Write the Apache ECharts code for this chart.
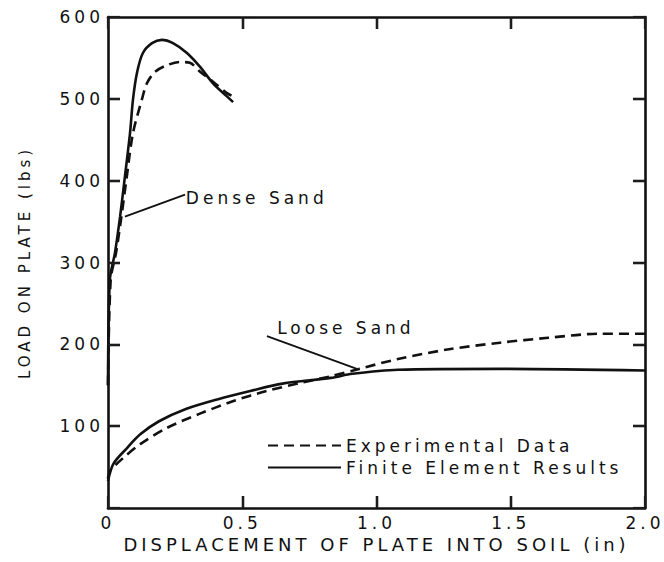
<!DOCTYPE html>
<html>
<head>
<meta charset="utf-8">
<script src="https://cdn.jsdelivr.net/npm/echarts@6/dist/echarts.min.js"></script>
<style>
  html, body { margin: 0; padding: 0; background: #fff; }
  #chart { width: 664px; height: 562px; }
  /* the scanned figure uses a very wide lettering */
  #chart svg text { letter-spacing: 4px; }
</style>
</head>
<body>
<div id="chart"></div>
<script>
// values: [displacement (in), load (lbs)]
var denseFE = [[0, 150], [0.007, 279], [0.026, 312], [0.045, 356], [0.063, 405], [0.082, 458], [0.093, 499],
  [0.108, 532], [0.13, 556], [0.164, 568], [0.201, 572], [0.242, 568], [0.294, 556], [0.343, 539],
  [0.391, 519], [0.443, 503], [0.466, 496]];
var denseExp = [[0, 150], [0.01, 279], [0.03, 312], [0.05, 356], [0.07, 405], [0.093, 458], [0.126, 499],
  [0.145, 519], [0.175, 533], [0.219, 541], [0.268, 545], [0.305, 544], [0.343, 533], [0.391, 521],
  [0.443, 507], [0.48, 501]];
var looseFE = [[0, 33], [0.02, 54], [0.07, 73], [0.12, 90], [0.19, 106], [0.29, 121], [0.41, 133],
  [0.53, 143], [0.65, 152], [0.83, 159], [0.91, 164], [1.08, 169], [1.46, 170], [2.0, 168]];
var looseExp = [[0, 36], [0.007, 45], [0.056, 61], [0.12, 78], [0.22, 98], [0.34, 115], [0.47, 131],
  [0.59, 143], [0.72, 153], [0.83, 161], [0.935, 170], [1.08, 182], [1.27, 194], [1.46, 202],
  [1.64, 208], [1.83, 213], [2.0, 213]];
var xTicks = ['0', '0.5', '1.0', '1.5', '2.0'];
var yTicks = ['', '100', '200', '300', '400', '500', '600'];
// curve notes: leader line (from, to) and where the words start
var denseNote = { from: [0.063, 356], to: [0.287, 383], at: [0.29, 379], text: 'Dense Sand' };
var looseNote = { from: [0.592, 210], to: [0.927, 170], at: [0.63, 220], text: 'Loose Sand' };

var ink = '#111';
var tickInk = '#1c1c1c';
var font = 'DejaVu Sans';
var dash = [10, 6];
var xStep = 0.5, yStep = 100;
var xMax = (xTicks.length - 1) * xStep, yMax = (yTicks.length - 1) * yStep;

function curve(name, data, dashed, note) {
  var s = {
    name: name, type: 'line', data: data, smooth: 0.3, symbol: 'none',
    lineStyle: { color: ink, width: 2.6, type: dashed ? dash : 'solid' },
    itemStyle: { color: ink },
    z: 3
  };
  if (note) {
    s.markLine = {
      silent: true, symbol: 'none',
      lineStyle: { color: ink, width: 1.8, type: 'solid' },
      label: { show: false },
      data: [[{ coord: note.from }, { coord: note.to }]]
    };
    s.markPoint = {
      silent: true, symbol: 'circle', symbolSize: 0,
      label: { show: true, position: 'right', distance: 0, color: ink, fontFamily: font, fontSize: 17 },
      data: [{ coord: note.at, value: note.text }]
    };
  }
  return s;
}

function ticks() {
  return { show: true, inside: true, length: 12, lineStyle: { color: tickInk, width: 2.2 } };
}

var chart = echarts.init(document.getElementById('chart'), null, { renderer: 'svg' });
chart.setOption({
  animation: false,
  backgroundColor: '#fff',
  grid: { left: 108, right: 19, top: 17, bottom: 54 },
  legend: {
    left: 262, top: 432, orient: 'vertical', itemGap: 5,
    itemWidth: 73, itemHeight: 14,
    data: ['Experimental Data', 'Finite Element Results'],
    itemStyle: { opacity: 0 },
    textStyle: { color: ink, fontFamily: font, fontSize: 17, padding: [0, 0, 0, 0] }
  },
  xAxis: [{
    type: 'value', min: 0, max: xMax, interval: xStep, position: 'bottom',
    name: 'DISPLACEMENT OF PLATE INTO SOIL (in)', nameLocation: 'middle', nameGap: 26,
    nameTextStyle: { color: ink, fontFamily: font, fontSize: 18 },
    axisLine: { show: true, onZero: false, lineStyle: { color: ink, width: 2.6 } },
    axisTick: ticks(),
    axisLabel: { color: ink, fontFamily: font, fontSize: 17, margin: 6,
      formatter: function (v) { return xTicks[Math.round(v / xStep)]; } },
    splitLine: { show: false }
  }, {
    type: 'value', min: 0, max: xMax, interval: xStep, position: 'top',
    axisLine: { show: true, onZero: false, lineStyle: { color: ink, width: 2.6 } },
    axisTick: ticks(),
    axisLabel: { show: false }, splitLine: { show: false }
  }],
  yAxis: [{
    type: 'value', min: 0, max: yMax, interval: yStep, position: 'left',
    name: 'LOAD ON PLATE (lbs)', nameLocation: 'middle', nameGap: 76,
    nameTextStyle: { color: ink, fontFamily: font, fontSize: 15 },
    axisLine: { show: true, onZero: false, lineStyle: { color: ink, width: 2.6 } },
    axisTick: ticks(),
    axisLabel: { color: ink, fontFamily: font, fontSize: 17, margin: 4,
      formatter: function (v) { return yTicks[Math.round(v / yStep)]; } },
    splitLine: { show: false }
  }, {
    type: 'value', min: 0, max: yMax, interval: yStep, position: 'right',
    axisLine: { show: true, onZero: false, lineStyle: { color: ink, width: 2.6 } },
    axisTick: ticks(),
    axisLabel: { show: false }, splitLine: { show: false }
  }],
  series: [
    curve('Experimental Data', denseExp, true),
    curve('Finite Element Results', denseFE, false, denseNote),
    curve('Experimental Data', looseExp, true),
    curve('Finite Element Results', looseFE, false, looseNote)
  ]
});

// inward tick marks on all four sides of the frame, 12px long, measured through the axes
var tickPx = 12;
var x0 = chart.convertToPixel({ xAxisIndex: 0 }, 0);
var y0 = chart.convertToPixel({ yAxisIndex: 0 }, 0);
var xLen = chart.convertFromPixel({ xAxisIndex: 0 }, x0 + tickPx);
var yLen = chart.convertFromPixel({ yAxisIndex: 0 }, y0 - tickPx);
var frameTicks = [];
for (var i = 1; i < xTicks.length - 1; i++) {
  var xv = i * xStep;
  frameTicks.push([{ coord: [xv, 0] }, { coord: [xv, yLen] }]);
  frameTicks.push([{ coord: [xv, yMax] }, { coord: [xv, yMax - yLen] }]);
}
for (var j = 1; j < yTicks.length - 1; j++) {
  var yv = j * yStep;
  frameTicks.push([{ coord: [0, yv] }, { coord: [xLen, yv] }]);
  frameTicks.push([{ coord: [xMax, yv] }, { coord: [xMax - xLen, yv] }]);
}
chart.setOption({
  series: [{}, {}, {}, {}, {
    name: 'frame', type: 'line', data: [[0, 0]], symbol: 'none', silent: true, clip: false,
    lineStyle: { width: 0 },
    markLine: {
      silent: true, symbol: 'none', animation: false,
      lineStyle: { color: tickInk, width: 2.4, type: 'solid' },
      label: { show: false },
      data: frameTicks
    }
  }]
});
</script>
</body>
</html>
